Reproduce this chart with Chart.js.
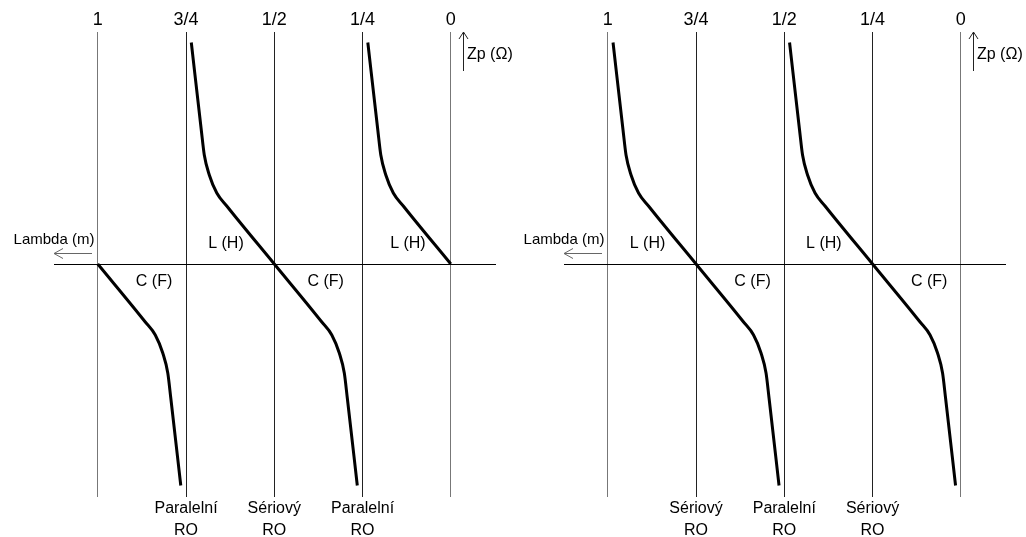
<!DOCTYPE html>
<html><head><meta charset="utf-8">
<script src="https://cdn.jsdelivr.net/npm/chart.js@4.4.1/dist/chart.umd.min.js"></script>
<style>
html,body{margin:0;padding:0;background:#fff;}
#wrap{position:relative;width:1026px;height:537px;overflow:hidden;background:#fff;}
canvas{position:absolute;top:0;}
</style></head><body>
<div id="wrap">
<canvas id="c1" width="513" height="537" style="left:0px"></canvas>
<canvas id="c2" width="513" height="537" style="left:513px"></canvas>
</div>
<script>
// ---- tick labels (wavelength fractions, axis reversed) ----
const tickValues = [1, 0.75, 0.5, 0.25, 0];
const tickLabels = ['1', '3/4', '1/2', '1/4', '0'];

// ---- Zp samples along the curves (arbitrary units, + = up) ----
const zUpper = [221.5, 134, 109, 89, 71, 58, 0];
const zFull  = [221.5, 134, 109, 89, 71, 58, 0, -58, -71, -89, -109, -134, -221.5];
const zLower = [0, -58, -71, -89, -109, -134, -221.5];

// ---- left panel curves (lambda values) ----
const leftA = [1, 0.8654, 0.8371, 0.8159, 0.8017, 0.7932, 0.7649];
const leftB = [0.7351, 0.7068, 0.6983, 0.6841, 0.6629, 0.6346, 0.5, 0.3654, 0.3371, 0.3159, 0.3017, 0.2932, 0.2649];
const leftC = [0.2351, 0.2068, 0.1983, 0.1841, 0.1629, 0.1346, 0];

// ---- right panel curves (lambda values) ----
const rightA = [0.9851, 0.9568, 0.9483, 0.9341, 0.9129, 0.8846, 0.75, 0.6154, 0.5871, 0.5659, 0.5517, 0.5432, 0.5149];
const rightB = [0.4851, 0.4568, 0.4483, 0.4341, 0.4129, 0.3846, 0.25, 0.1154, 0.0871, 0.0659, 0.0517, 0.0432, 0.0149];

// ---- bottom labels ----
const leftBottomTicks  = [0.75, 0.5, 0.25];
const leftBottomLabels = [['Paralelní', 'RO'], ['Sériový', 'RO'], ['Paralelní', 'RO']];
const rightBottomTicks  = [0.75, 0.5, 0.25];
const rightBottomLabels = [['Sériový', 'RO'], ['Paralelní', 'RO'], ['Sériový', 'RO']];

// ---- region labels (lambda, Zp) ----
const regionText = ['L (H)', 'C (F)'];
const regionY = [20, -17.5];
const leftLX = [0.637, 0.1215];
const leftCX = [0.8405, 0.3547];
const rightLX = [0.8875, 0.388];
const rightCX = [0.590, 0.0898];

const FONT = '"Liberation Sans", Arial, Helvetica, sans-serif';

function pts(xs, ys) { return xs.map((x, i) => ({ x: x, y: ys[i] })); }

function makeChart(id, curves, bTicks, bLabels, lX, cX, padL, padR) {
  const deco = {
    id: 'deco',
    afterDraw(chart) {
      const ctx = chart.ctx;
      const xs = chart.scales.x, ys = chart.scales.y;
      const area = chart.chartArea;
      ctx.save();
      ctx.fillStyle = '#000';
      ctx.textAlign = 'center';
      ctx.textBaseline = 'middle';
      ctx.font = '16px ' + FONT;
      lX.forEach(v => ctx.fillText(regionText[0], xs.getPixelForValue(v), ys.getPixelForValue(regionY[0])));
      cX.forEach(v => ctx.fillText(regionText[1], xs.getPixelForValue(v), ys.getPixelForValue(regionY[1])));
      // Lambda axis title with arrow
      const y0 = ys.getPixelForValue(0);
      ctx.font = '15px ' + FONT;
      ctx.fillText('Lambda (m)', area.left, y0 - 24);
      ctx.strokeStyle = '#666';
      ctx.lineWidth = 1;
      ctx.beginPath();
      const ay = Math.round(y0 - 11) + 0.5;
      ctx.moveTo(area.left, ay); ctx.lineTo(area.left + 38, ay);
      ctx.moveTo(area.left + 9, ay - 5); ctx.lineTo(area.left, ay); ctx.lineTo(area.left + 9, ay + 5);
      ctx.stroke();
      // Zp axis title with arrow
      const x0 = Math.round(xs.getPixelForValue(0) + 12) + 0.5;
      ctx.strokeStyle = '#222';
      ctx.beginPath();
      ctx.moveTo(x0, area.top); ctx.lineTo(x0, area.top + 39);
      ctx.moveTo(x0 - 4.5, area.top + 7); ctx.lineTo(x0, area.top); ctx.lineTo(x0 + 4.5, area.top + 7);
      ctx.stroke();
      ctx.textAlign = 'left';
      ctx.font = '16px ' + FONT;
      ctx.fillText('Zp (\u03A9)', x0 + 3.5, area.top + 23);
      ctx.restore();
    }
  };
  const xCommon = { type: 'linear', min: -0.128, max: 1.124, reverse: true, bounds: 'data' };
  return new Chart(document.getElementById(id), {
    type: 'scatter',
    data: {
      datasets: curves.map(c => ({
        data: pts(c[0], c[1]),
        showLine: true,
        borderColor: '#000',
        borderWidth: 3,
        pointRadius: 0,
        pointHoverRadius: 0,
        cubicInterpolationMode: 'monotone',
        borderJoinStyle: 'round',
        fill: false
      }))
    },
    options: {
      responsive: false,
      animation: false,
      devicePixelRatio: 1,
      layout: { padding: { left: padL, right: padR, top: 0, bottom: 0 } },
      plugins: { legend: { display: false }, tooltip: { enabled: false } },
      events: [],
      scales: {
        x: Object.assign({}, xCommon, {
          position: 'top',
          afterFit: s => { s.height = 32; },
          afterBuildTicks: s => { s.ticks = tickValues.map(v => ({ value: v })); },
          ticks: {
            autoSkip: false, maxRotation: 0, padding: 1, color: '#000',
            font: { family: FONT, size: 18 },
            callback: (v, i) => tickLabels[i]
          },
          grid: {
            drawTicks: false,
            color: c => (c.tick && (c.tick.value === 0 || c.tick.value === 1)) ? '#777' : '#222',
            lineWidth: 1
          },
          border: { display: false }
        }),
        x2: Object.assign({}, xCommon, {
          position: 'bottom',
          afterFit: s => { s.height = 40; },
          afterBuildTicks: s => { s.ticks = bTicks.map(v => ({ value: v })); },
          ticks: {
            autoSkip: false, maxRotation: 0, padding: 1, color: '#000',
            font: { family: FONT, size: 16, lineHeight: 1.375 },
            callback: (v, i) => bLabels[i]
          },
          grid: { display: false, drawTicks: false },
          border: { display: false }
        }),
        y: {
          type: 'linear', min: -233, max: 232,
          afterFit: s => { s.width = 0; },
          afterBuildTicks: s => { s.ticks = [{ value: 0 }]; },
          ticks: { display: false },
          grid: { drawTicks: false, color: '#000', lineWidth: 1 },
          border: { display: false }
        }
      }
    },
    plugins: [deco]
  });
}

makeChart('c1', [[leftA, zLower], [leftB, zFull], [leftC, zUpper]],
  leftBottomTicks, leftBottomLabels, leftLX, leftCX, 54, 17);
makeChart('c2', [[rightA, zFull], [rightB, zFull]],
  rightBottomTicks, rightBottomLabels, rightLX, rightCX, 51, 20);
</script>
</body></html>
